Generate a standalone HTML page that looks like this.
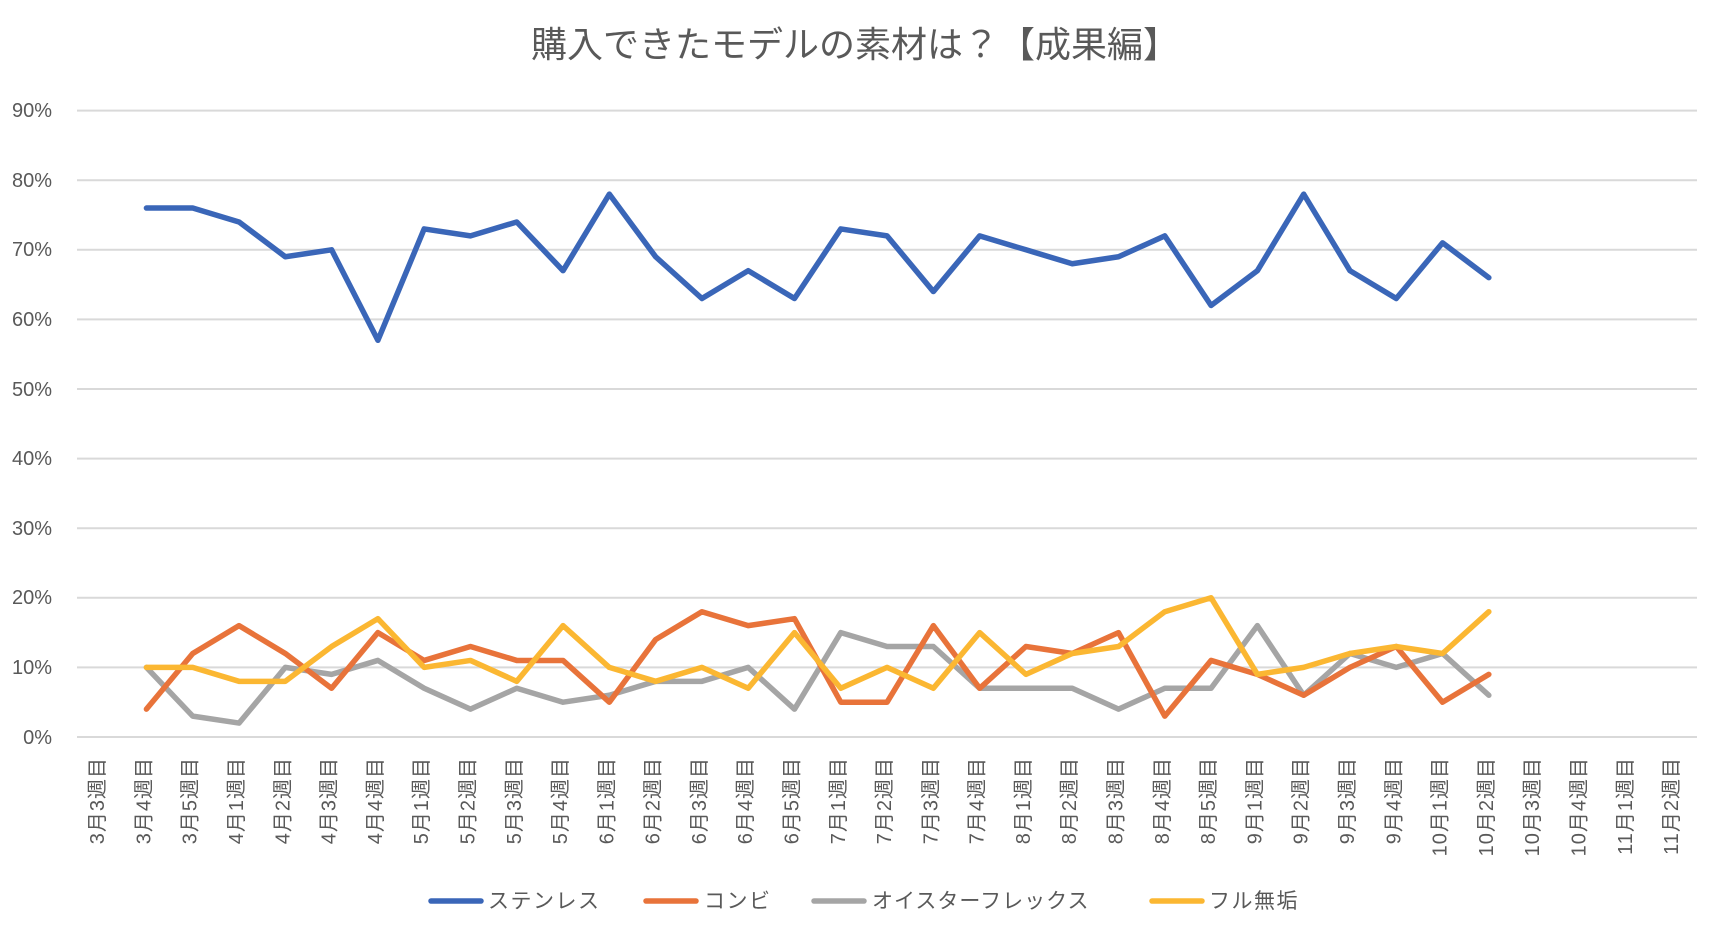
<!DOCTYPE html>
<html><head><meta charset="utf-8"><style>
html,body{margin:0;padding:0;background:#fff;}
svg{display:block;font-family:"Liberation Sans","Noto Sans CJK JP",sans-serif;}
</style></head><body>
<svg width="1724" height="938" viewBox="0 0 1724 938" xmlns="http://www.w3.org/2000/svg">
<rect width="1724" height="938" fill="#fff"/>
<text x="855" y="57" font-size="36" fill="#595959" text-anchor="middle">購入できたモデルの素材は？【成果編】</text>
<g stroke="#d9d9d9" stroke-width="2">
<line x1="77" x2="1697" y1="110.6" y2="110.6"/>
<line x1="77" x2="1697" y1="180.2" y2="180.2"/>
<line x1="77" x2="1697" y1="249.8" y2="249.8"/>
<line x1="77" x2="1697" y1="319.4" y2="319.4"/>
<line x1="77" x2="1697" y1="389" y2="389"/>
<line x1="77" x2="1697" y1="458.6" y2="458.6"/>
<line x1="77" x2="1697" y1="528.2" y2="528.2"/>
<line x1="77" x2="1697" y1="597.8" y2="597.8"/>
<line x1="77" x2="1697" y1="667.4" y2="667.4"/>
<line x1="77" x2="1697" y1="737" y2="737"/>
</g>
<g font-size="20" fill="#595959" text-anchor="end">
<text x="52" y="117">90%</text>
<text x="52" y="187">80%</text>
<text x="52" y="256">70%</text>
<text x="52" y="326">60%</text>
<text x="52" y="396">50%</text>
<text x="52" y="465">40%</text>
<text x="52" y="535">30%</text>
<text x="52" y="604">20%</text>
<text x="52" y="674">10%</text>
<text x="52" y="744">0%</text>
</g>
<g transform="translate(100.14,737) scale(46.29,-6.96)" fill="none" stroke-width="5.5" stroke-linejoin="round" stroke-linecap="round">
<polyline vector-effect="non-scaling-stroke" stroke="#a5a5a5" points="1,10 2,3 3,2 4,10 5,9 6,11 7,7 8,4 9,7 10,5 11,6 12,8 13,8 14,10 15,4 16,15 17,13 18,13 19,7 20,7 21,7 22,4 23,7 24,7 25,16 26,6 27,12 28,10 29,12 30,6"/>
<polyline vector-effect="non-scaling-stroke" stroke="#e8733a" points="1,4 2,12 3,16 4,12 5,7 6,15 7,11 8,13 9,11 10,11 11,5 12,14 13,18 14,16 15,17 16,5 17,5 18,16 19,7 20,13 21,12 22,15 23,3 24,11 25,9 26,6 27,10 28,13 29,5 30,9"/>
<polyline vector-effect="non-scaling-stroke" stroke="#fbb732" points="1,10 2,10 3,8 4,8 5,13 6,17 7,10 8,11 9,8 10,16 11,10 12,8 13,10 14,7 15,15 16,7 17,10 18,7 19,15 20,9 21,12 22,13 23,18 24,20 25,9 26,10 27,12 28,13 29,12 30,18"/>
<polyline vector-effect="non-scaling-stroke" stroke="#3a66b8" points="1,76 2,76 3,74 4,69 5,70 6,57 7,73 8,72 9,74 10,67 11,78 12,69 13,63 14,67 15,63 16,73 17,72 18,64 19,72 20,70 21,68 22,69 23,72 24,62 25,67 26,78 27,67 28,63 29,71 30,66"/>
</g>
<g font-size="20" fill="#595959" text-anchor="end" dominant-baseline="central" letter-spacing="1">
<text transform="translate(98,757) rotate(-90)">3月3週目</text>
<text transform="translate(144.4,757) rotate(-90)">3月4週目</text>
<text transform="translate(190.7,757) rotate(-90)">3月5週目</text>
<text transform="translate(237,757) rotate(-90)">4月1週目</text>
<text transform="translate(283.3,757) rotate(-90)">4月2週目</text>
<text transform="translate(329.6,757) rotate(-90)">4月3週目</text>
<text transform="translate(375.9,757) rotate(-90)">4月4週目</text>
<text transform="translate(422.2,757) rotate(-90)">5月1週目</text>
<text transform="translate(468.5,757) rotate(-90)">5月2週目</text>
<text transform="translate(514.8,757) rotate(-90)">5月3週目</text>
<text transform="translate(561,757) rotate(-90)">5月4週目</text>
<text transform="translate(607.3,757) rotate(-90)">6月1週目</text>
<text transform="translate(653.6,757) rotate(-90)">6月2週目</text>
<text transform="translate(699.9,757) rotate(-90)">6月3週目</text>
<text transform="translate(746.2,757) rotate(-90)">6月4週目</text>
<text transform="translate(792.5,757) rotate(-90)">6月5週目</text>
<text transform="translate(838.8,757) rotate(-90)">7月1週目</text>
<text transform="translate(885.1,757) rotate(-90)">7月2週目</text>
<text transform="translate(931.4,757) rotate(-90)">7月3週目</text>
<text transform="translate(977.7,757) rotate(-90)">7月4週目</text>
<text transform="translate(1024,757) rotate(-90)">8月1週目</text>
<text transform="translate(1070.2,757) rotate(-90)">8月2週目</text>
<text transform="translate(1116.5,757) rotate(-90)">8月3週目</text>
<text transform="translate(1162.8,757) rotate(-90)">8月4週目</text>
<text transform="translate(1209.1,757) rotate(-90)">8月5週目</text>
<text transform="translate(1255.4,757) rotate(-90)">9月1週目</text>
<text transform="translate(1301.7,757) rotate(-90)">9月2週目</text>
<text transform="translate(1348,757) rotate(-90)">9月3週目</text>
<text transform="translate(1394.3,757) rotate(-90)">9月4週目</text>
<text transform="translate(1440.6,757) rotate(-90)">10月1週目</text>
<text transform="translate(1486.9,757) rotate(-90)">10月2週目</text>
<text transform="translate(1533.2,757) rotate(-90)">10月3週目</text>
<text transform="translate(1579.5,757) rotate(-90)">10月4週目</text>
<text transform="translate(1625.8,757) rotate(-90)">11月1週目</text>
<text transform="translate(1672.1,757) rotate(-90)">11月2週目</text>
</g>
<g stroke-width="5.5" stroke-linecap="round">
<line x1="431" x2="481" y1="901" y2="901" stroke="#3a66b8"/>
<line x1="646" x2="696" y1="901" y2="901" stroke="#e8733a"/>
<line x1="814" x2="864" y1="901" y2="901" stroke="#a5a5a5"/>
<line x1="1152" x2="1202" y1="901" y2="901" stroke="#fbb732"/>
</g>
<g font-size="21" fill="#595959">
<text x="488" y="908" letter-spacing="1.5">ステンレス</text>
<text x="704" y="908" letter-spacing="1.5">コンビ</text>
<text x="872" y="908" letter-spacing="1">オイスターフレックス</text>
<text x="1209" y="908" letter-spacing="1.5">フル無垢</text>
</g>
</svg>
</body></html>
